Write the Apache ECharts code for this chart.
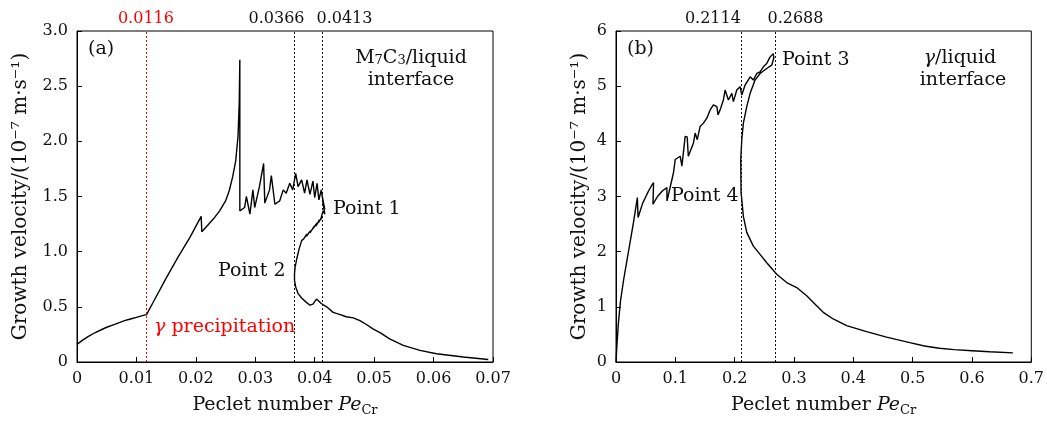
<!DOCTYPE html>
<html>
<head>
<meta charset="utf-8">
<script src="https://cdn.jsdelivr.net/npm/echarts@6/dist/echarts.min.js"></script>
<style>html,body{margin:0;padding:0;background:#fff}#c{width:1047px;height:422px}</style>
</head>
<body>
<div id="c"></div>
<script>
// Panel (a): M7C3/liquid interface
var peA = [0,0.001,0.002,0.003,0.004,0.005,0.006,0.007,0.008,0.009,0.010,0.011,0.0117,
  0.013,0.015,0.017,0.019,0.0209,0.021,0.022,0.023,0.024,0.025,0.0256,0.0262,0.0267,0.0271,0.0273,0.0274,0.0274,
  0.0275,0.0282,0.0285,0.0291,0.0296,0.0299,0.0307,0.0314,0.0316,0.0324,0.0327,0.0333,0.0341,0.0347,0.0352,0.0358,0.0363,0.0368,0.0372,0.0378,0.0383,0.0387,0.0392,0.0397,0.0400,0.0404,0.0407,0.0411,
  0.0415,0.0412,0.0417,0.0413,0.0417,0.0414,0.0416,0.0410,0.0413,0.0406,0.0408,0.0402,0.0404,0.0397,0.0399,0.0392,0.0393,0.0386,0.0387,0.0382,0.0378,0.0374,0.0370,0.0367,0.0366,0.0366,0.0368,0.0372,0.0378,0.0385,0.0392,0.0397,0.0403,0.0411,0.0420,0.0431,0.0443,0.0453,0.0465,0.0476,0.0487,0.0498,0.0512,0.0526,0.0549,0.0577,0.0605,0.0650,0.0692];
var velA = [0.16,0.20,0.235,0.265,0.29,0.315,0.335,0.355,0.375,0.39,0.405,0.42,0.43,
  0.56,0.76,0.95,1.13,1.32,1.18,1.24,1.30,1.37,1.46,1.55,1.68,1.82,2.05,2.35,2.74,1.37,
  1.37,1.40,1.50,1.34,1.56,1.40,1.59,1.80,1.44,1.56,1.69,1.43,1.46,1.56,1.53,1.62,1.56,1.71,1.59,1.65,1.53,1.65,1.52,1.64,1.49,1.62,1.47,1.56,
  1.43,1.52,1.38,1.47,1.34,1.37,1.36,1.29,1.32,1.26,1.29,1.23,1.26,1.21,1.23,1.17,1.19,1.14,1.16,1.12,1.10,1.03,0.94,0.86,0.80,0.74,0.68,0.62,0.58,0.545,0.515,0.525,0.57,0.53,0.50,0.45,0.43,0.41,0.40,0.375,0.34,0.30,0.26,0.21,0.15,0.105,0.075,0.045,0.023];

// Panel (b): gamma/liquid interface
var peB = [0,0.0015,0.004,0.0075,0.013,0.021,0.029,0.036,0.0372,0.045,0.053,0.060,0.0633,0.0623,0.070,0.078,0.0858,0.086,
  0.0969,0.0998,0.1082,0.1111,0.1166,0.120,0.1219,0.1306,0.1334,0.137,0.1418,0.1474,0.1531,0.1587,0.1642,0.170,0.172,0.1755,0.1810,0.1839,0.1895,0.1952,0.1979,0.2036,0.2092,0.2120,0.2176,0.2261,0.2315,0.2373,0.2428,0.2484,0.2541,0.2597,0.2652,0.268,0.266,
  0.2625,0.2541,0.2428,0.2344,0.2261,0.2204,0.2147,0.2120,0.2103,0.2108,0.2120,0.2147,0.2204,0.2315,0.2428,0.2541,0.2709,0.2877,0.3046,0.3214,0.3382,0.3493,0.3661,0.3887,0.4223,0.456,0.4952,0.52,0.545,0.57,0.60,0.63,0.669];
var velB = [0,0.30,0.70,1.10,1.50,2.00,2.50,2.98,2.62,2.88,3.06,3.20,3.25,2.86,3.00,3.10,3.16,2.92,
  3.43,3.67,3.73,3.55,4.09,4.08,3.73,3.97,4.15,4.03,4.27,4.33,4.42,4.57,4.66,4.63,4.48,4.57,4.75,4.93,4.75,4.87,4.72,4.93,4.99,4.84,5.02,5.17,5.11,5.23,5.26,5.35,5.41,5.53,5.59,5.62,5.51,
  5.38,5.32,5.23,5.11,4.87,4.63,4.33,4.03,3.67,3.07,2.95,2.64,2.35,2.10,1.95,1.80,1.59,1.44,1.35,1.20,1.02,0.90,0.78,0.66,0.55,0.45,0.35,0.29,0.25,0.225,0.205,0.185,0.165];

var xTicksA = {min:0, max:0.07, interval:0.01};
var yTicksA = {min:0, max:3, interval:0.5};
var xTicksB = {min:0, max:0.7, interval:0.1};
var yTicksB = {min:0, max:6, interval:1};

var markA = [0.0116, 0.0366, 0.0413];
var markB = [0.2114, 0.2688];

function zip(a,b){ var r=[]; for(var i=0;i<a.length;i++) r.push([a[i],b[i]]); return r; }

var FONT = 'DejaVu Serif';
var INK = '#111';
var txt = {fontFamily:FONT, fontSize:16, color:INK};

function xAx(idx, t, dec){
  return {type:'value', gridIndex:idx, min:t.min, max:t.max, interval:t.interval,
    axisLine:{show:true, lineStyle:{color:'#000', width:1}},
    axisTick:{show:true, inside:true, length:5, lineStyle:{color:'#000'}},
    axisLabel:Object.assign({margin:9, formatter:function(v){return v===0?'0':v.toFixed(dec);}}, txt),
    splitLine:{show:false},
    name:'Peclet number {it|Pe}{sub|Cr}', nameLocation:'middle', nameGap:31,
    nameTextStyle:{fontFamily:FONT, fontSize:19, color:INK, lineHeight:24,
      rich:{it:{fontFamily:FONT, fontStyle:'italic', fontSize:19, color:INK, lineHeight:24},
            sub:{fontFamily:FONT, fontSize:13, color:INK, verticalAlign:'bottom', lineHeight:13}}}
  };
}
function yAx(idx, t, dec, gap){
  return {type:'value', gridIndex:idx, min:t.min, max:t.max, interval:t.interval,
    axisLine:{show:true, lineStyle:{color:'#000', width:1}},
    axisTick:{show:true, inside:true, length:5, lineStyle:{color:'#000'}},
    axisLabel:Object.assign({margin:9, formatter:function(v){return v===0?'0':v.toFixed(dec);}}, txt),
    splitLine:{show:false},
    name:'Growth velocity/(10\u207B\u2077 m\u00B7s\u207B\u00B9)', nameLocation:'middle', nameGap:gap, nameRotate:90,
    nameTextStyle:{fontFamily:FONT, fontSize:20, color:INK}
  };
}
function mk(v, color, pad){
  return {xAxis:v, lineStyle:{color:color, type:[2,2], width:1},
    label:{show:true, position:'end', formatter:String(v), fontFamily:FONT, fontSize:16, color:color, distance:4, padding:pad}};
}
function note(x, y, text, align, color){
  var c = color || INK;
  return {type:'text', x:x, y:y, silent:true, style:{text:text, fontFamily:FONT, fontSize:19, fill:c,
    align:align||'left', verticalAlign:'middle',
    rich:{s:{fontFamily:FONT, fontSize:13, fill:c, verticalAlign:'bottom', lineHeight:12},
          g:{fontFamily:FONT, fontSize:19, fontStyle:'italic', fill:c}}}};
}

var option = {
  animation:false,
  grid:[
    {left:77, right:554, top:31, bottom:59, show:true, borderColor:'#000', borderWidth:1},
    {left:616, right:15, top:31, bottom:59, show:true, borderColor:'#000', borderWidth:1}
  ],
  xAxis:[xAx(0,xTicksA,2), xAx(1,xTicksB,1)],
  yAxis:[yAx(0,yTicksA,1,46), yAx(1,yTicksB,0,26)],
  series:[
    {type:'line', xAxisIndex:0, yAxisIndex:0, data:zip(peA,velA), symbol:'none', lineStyle:{color:'#000', width:1.4},
      markLine:{silent:true, precision:4, symbol:['none','none'], data:[mk(markA[0],'#ff0000',[0,0,0,0]), mk(markA[1],INK,[0,36,0,0]), mk(markA[2],INK,[0,0,0,44])]}},
    {type:'line', xAxisIndex:1, yAxisIndex:1, data:zip(peB,velB), symbol:'none', lineStyle:{color:'#000', width:1.4},
      markLine:{silent:true, precision:4, symbol:['none','none'], data:[mk(markB[0],INK,[0,57,0,0]), mk(markB[1],INK,[0,0,0,40])]}}
  ],
  graphic:[
    note(88, 49, '(a)'),
    note(411, 58, 'M{s|7}C{s|3}/liquid', 'center'),
    note(411, 80, 'interface', 'center'),
    note(333, 209, 'Point 1'),
    note(218, 271, 'Point 2'),
    note(154, 327, '{g|\u03B3} precipitation', 'left', '#ff0000'),
    note(627, 49, '(b)'),
    note(960, 58, '{g|\u03B3}/liquid', 'center'),
    note(963, 80, 'interface', 'center'),
    note(782, 60, 'Point 3'),
    note(671, 196, 'Point 4')
  ]
};
var chart = echarts.init(document.getElementById('c'), null, {renderer:'canvas'});
chart.setOption(option);
</script>
</body>
</html>
